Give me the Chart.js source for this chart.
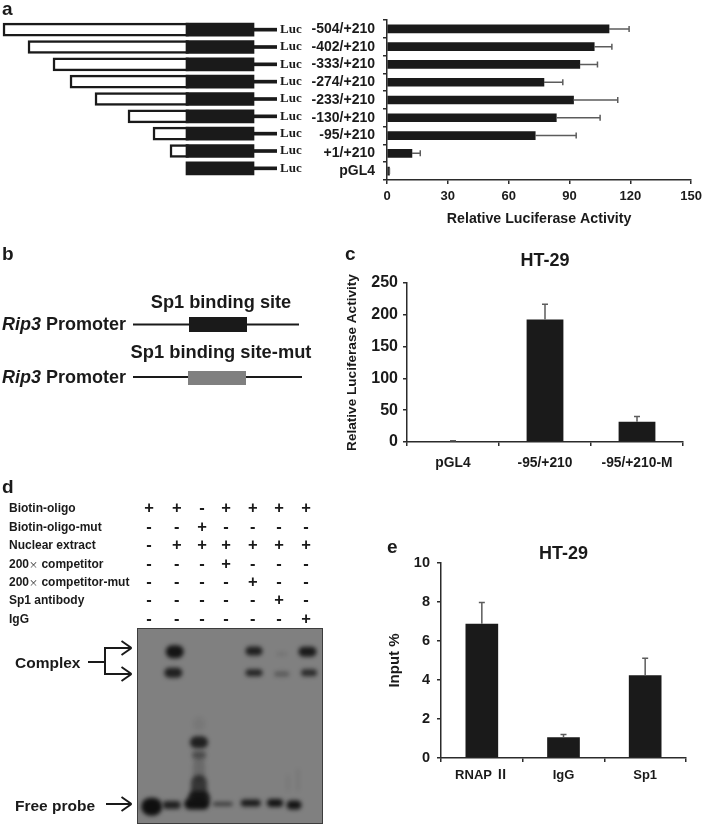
<!DOCTYPE html>
<html>
<head>
<meta charset="utf-8">
<title>Rip3 promoter figure</title>
<script src="https://cdn.jsdelivr.net/npm/chart.js@4/dist/chart.umd.min.js"></script>
<style>
    html, body { margin: 0; padding: 0; background: #fff; }
    #figure { position: relative; width: 703px; height: 825px; overflow: hidden; filter: blur(0.45px); }
    #figure canvas, #figure svg { position: absolute; }
    svg text { font-family: 'Liberation Sans', 'Noto Sans CJK SC', sans-serif; font-weight: bold; fill: #1a1a1a; dominant-baseline: central; }
</style>
</head>
<body>
<div id="figure">
    <svg id="notes" width="703" height="825" style="left:0;top:0"></svg>
    <canvas id="constructChart"></canvas>
    <canvas id="deletionChart"></canvas>
    <canvas id="mutantChart"></canvas>
    <canvas id="gelChart"></canvas>
    <canvas id="chipChart"></canvas>
</div>

<script>
// panel a - deletion constructs
const constructLabels = ['-504/+210', '-402/+210', '-333/+210', '-274/+210', '-233/+210', '-130/+210', '-95/+210', '+1/+210', 'pGL4'];
const constructLuc = ['Luc', 'Luc', 'Luc', 'Luc', 'Luc', 'Luc', 'Luc', 'Luc', 'Luc'];
const insertStarts = [-183, -158, -133, -116, -91, -58, -33, -16, null];
const blackEnds = [68, 68, 68, 68, 68, 68, 68, 68, 68];
const stemEnds = [91, 91, 91, 91, 91, 91, 91, 91, 91];
const deletionValues = [109.5, 102.2, 95.1, 77.4, 92, 83.5, 73.1, 12.3, 1.2];
const deletionErrorTops = [119.4, 110.9, 103.8, 86.7, 113.8, 105.1, 93.3, 16.4, 1.2];
const deletionTicks = [0, 30, 60, 90, 120, 150];

// panel c
const mutantLabels = ['pGL4', '-95/+210', '-95/+210-M'];
const mutantValues = [1, 192.5, 32];
const mutantErrorTops = [2, 216.5, 40];

// panel d
const reagentNames = ['Biotin-oligo', 'Biotin-oligo-mut', 'Nuclear extract', '200× competitor', '200× competitor-mut', 'Sp1 antibody', 'IgG'];
const reagentMarks = ['++-++++', '--+----', '-++++++', '---+---', '----+--', '-----+-', '------+'];
const bandX = [37.7, 36.3, 117, 117, 144.7, 144.7, 170.5, 172, 62, 62, 62, 62, 62, 62, 14.7, 34.7, 59.7, 85.7, 113.7, 138, 157, 151, 161];
const bandY = [23.7, 44.7, 23, 44.7, 26, 46, 23.7, 44.7, 96, 114.3, 127, 142, 160, 170, 178.7, 177, 176, 176, 175, 175, 177, 155, 152];
const bandW = [18, 18, 17, 17, 10, 15, 18, 16, 12, 18, 14, 12, 16, 22, 21, 18, 25, 20, 20, 16, 15, 1.5, 1.5];
const bandH = [13, 10, 9, 7, 3, 5, 10, 7, 14, 12, 8, 24, 26, 14, 18, 8, 11, 3.5, 7, 8, 9, 16, 22];
const bandDark = [0.95, 0.85, 0.85, 0.8, 0.15, 0.35, 0.9, 0.75, 0.07, 0.85, 0.45, 0.2, 0.65, 0.85, 1, 0.85, 0.98, 0.7, 0.9, 0.95, 0.95, 0.12, 0.15];

// panel e
const chipLabels = ['RNAP Ⅱ', 'IgG', 'Sp1'];
const chipValues = [6.89, 1.06, 4.24];
const chipErrorTops = [7.97, 1.21, 5.11];

const INK = '#1a1a1a';
const AXIS = '#2b2b2b';
const SANS = "'Liberation Sans', 'Noto Sans CJK SC', sans-serif";
const SERIF = "'Liberation Serif', serif";

function place(id, left, top, width, height) {
    const canvas = document.getElementById(id);
    canvas.width = width;
    canvas.height = height;
    canvas.style.left = left + 'px';
    canvas.style.top = top + 'px';
    return canvas.getContext('2d');
}

function boldFont(size, lineHeight) {
    return { family: SANS, size: size, weight: 'bold', lineHeight: lineHeight || 1.2 };
}

// grey error bars, upper side only
function errorBars(tops) {
    return {
        id: 'errorBars',
        afterDatasetsDraw(chart) {
            const ctx = chart.ctx;
            const horizontal = chart.options.indexAxis === 'y';
            const bars = chart.getDatasetMeta(0).data;
            const valueScale = horizontal ? chart.scales.x : chart.scales.y;
            ctx.save();
            ctx.strokeStyle = '#5c5c5c';
            ctx.lineWidth = 1.5;
            bars.forEach((bar, i) => {
                const end = valueScale.getPixelForValue(tops[i]);
                ctx.beginPath();
                if (horizontal) {
                    ctx.moveTo(bar.x, bar.y);
                    ctx.lineTo(end, bar.y);
                    ctx.moveTo(end, bar.y - 3);
                    ctx.lineTo(end, bar.y + 3);
                } else {
                    ctx.moveTo(bar.x, bar.y);
                    ctx.lineTo(bar.x, end);
                    ctx.moveTo(bar.x - 3, end);
                    ctx.lineTo(bar.x + 3, end);
                }
                ctx.stroke();
            });
            ctx.restore();
        }
    };
}

function initConstructChart() {
    const ctx = place('constructChart', 0, 0, 320, 190);
    const barBase = { barThickness: 13, grouped: false };
    // black box listed first so it sits over the right edge of the white insert
    new Chart(ctx, {
        type: 'bar',
        data: {
            labels: constructLuc,
            datasets: [
                Object.assign({}, barBase, {
                    data: blackEnds.map(e => [0, e]),
                    backgroundColor: INK
                }),
                Object.assign({}, barBase, {
                    barThickness: 3,
                    data: stemEnds.map((e, i) => [blackEnds[i], e]),
                    backgroundColor: INK
                }),
                Object.assign({}, barBase, {
                    data: insertStarts.map(s => s === null ? null : [s, 2.5]),
                    backgroundColor: '#fff', borderColor: INK, borderWidth: 2.5, borderSkipped: false
                })
            ]
        },
        options: {
            indexAxis: 'y',
            responsive: false,
            animation: false,
            layout: { padding: { top: 21, bottom: 13 } },
            plugins: { legend: { display: false }, tooltip: { enabled: false } },
            scales: {
                x: { display: false, min: -186, max: 91 },
                y: {
                    position: 'right',
                    grid: { display: false, drawTicks: false },
                    border: { display: false },
                    afterFit(scale) { scale.width = 43; },
                    ticks: { color: INK, padding: 3, autoSkip: false, font: { family: SERIF, size: 13, weight: 'bold' } }
                }
            }
        }
    });
}

function initDeletionChart() {
    const ctx = place('deletionChart', 302, 0, 405, 228);
    new Chart(ctx, {
        type: 'bar',
        data: {
            labels: constructLabels,
            datasets: [{ data: deletionValues, backgroundColor: INK, barThickness: 8 }]
        },
        options: {
            indexAxis: 'y',
            responsive: false,
            animation: false,
            layout: { padding: { top: 20, right: 15 } },
            plugins: { legend: { display: false }, tooltip: { enabled: false } },
            scales: {
                x: {
                    min: 0,
                    max: 150,
                    afterFit(scale) { scale.height = 48; },
                    afterBuildTicks(scale) { scale.ticks = deletionTicks.map(v => ({ value: v })); },
                    grid: { drawOnChartArea: false, color: AXIS, lineWidth: 1.5, tickLength: 4 },
                    border: { color: AXIS, width: 1.5 },
                    ticks: { color: INK, padding: 5, font: boldFont(13), maxRotation: 0 },
                    title: { display: true, text: 'Relative Luciferase Activity', color: INK, padding: 0, font: boldFont(14.2) }
                },
                y: {
                    afterFit(scale) { scale.width = 85; },
                    grid: { drawOnChartArea: false, offset: true, color: AXIS, lineWidth: 1.5, tickLength: 4 },
                    border: { color: AXIS, width: 1.5 },
                    ticks: { color: INK, padding: 8, font: boldFont(14), autoSkip: false }
                }
            }
        },
        plugins: [errorBars(deletionErrorTops)]
    });
}

function columnOptions(opts) {
    return {
        responsive: false,
        animation: false,
        layout: { padding: { right: opts.right } },
        plugins: {
            legend: { display: false },
            tooltip: { enabled: false },
            title: {
                display: true,
                text: 'HT-29',
                color: INK,
                fullSize: false,
                font: boldFont(18, 1),
                padding: { top: 0, bottom: opts.titleGap }
            }
        },
        scales: {
            x: {
                afterFit(scale) { scale.height = opts.xHeight; },
                grid: { drawOnChartArea: false, offset: true, color: AXIS, lineWidth: 1.5, tickLength: 4 },
                border: { color: AXIS, width: 1.5 },
                ticks: { color: INK, padding: opts.xPad, font: boldFont(opts.xFont), maxRotation: 0 }
            },
            y: {
                min: 0,
                max: opts.max,
                afterFit(scale) { scale.width = opts.yWidth; },
                grid: { drawOnChartArea: false, color: AXIS, lineWidth: 1.5, tickLength: 4 },
                border: { color: AXIS, width: 1.5 },
                ticks: { color: INK, stepSize: opts.step, padding: opts.yPad, font: boldFont(opts.yFont) },
                title: { display: true, text: opts.yTitle, color: INK, padding: 0, font: boldFont(opts.yTitleFont) }
            }
        }
    };
}

function initMutantChart() {
    const ctx = place('mutantChart', 344, 252, 359, 230);
    new Chart(ctx, {
        type: 'bar',
        data: {
            labels: mutantLabels,
            datasets: [{ data: mutantValues, backgroundColor: INK, barPercentage: 0.8, categoryPercentage: 0.5 }]
        },
        options: columnOptions({
            right: 20, titleGap: 13, xHeight: 40, xPad: 8.5, xFont: 13.8, max: 250, step: 50,
            yWidth: 63, yPad: 5, yFont: 16, yTitle: 'Relative Luciferase Activity', yTitleFont: 13.6
        }),
        plugins: [errorBars(mutantErrorTops)]
    });
}

function initChipChart() {
    const ctx = place('chipChart', 386, 545, 317, 240);
    new Chart(ctx, {
        type: 'bar',
        data: {
            labels: chipLabels,
            datasets: [{ data: chipValues, backgroundColor: INK, barPercentage: 0.8, categoryPercentage: 0.5 }]
        },
        options: columnOptions({
            right: 17, titleGap: 0, xHeight: 27, xPad: 5.5, xFont: 13, max: 10, step: 2,
            yWidth: 55, yPad: 7, yFont: 14.5, yTitle: 'Input %', yTitleFont: 15
        }),
        plugins: [errorBars(chipErrorTops)]
    });
}

// gel blot, bands placed through the chart's own linear scales
const gelBands = {
    id: 'gelBands',
    beforeDatasetsDraw(chart) {
        const { ctx, chartArea: area, scales: { x, y } } = chart;
        ctx.save();
        ctx.beginPath();
        ctx.rect(area.left, area.top, area.width, area.height);
        ctx.clip();
        ctx.fillStyle = '#808080';
        ctx.fillRect(area.left, area.top, area.width, area.height);
        ctx.filter = 'blur(2px)';
        bandX.forEach((bx, i) => {
            const w = x.getPixelForValue(bandW[i]) - x.getPixelForValue(0);
            const h = y.getPixelForValue(bandH[i]) - y.getPixelForValue(0);
            ctx.fillStyle = 'rgba(15, 15, 15, ' + bandDark[i] + ')';
            ctx.beginPath();
            ctx.roundRect(x.getPixelForValue(bx) - w / 2, y.getPixelForValue(bandY[i]) - h / 2, w, h, Math.min(w, h) * 0.5);
            ctx.fill();
        });
        ctx.filter = 'none';
        ctx.strokeStyle = '#3d3d3d';
        ctx.lineWidth = 2;
        ctx.strokeRect(area.left, area.top, area.width, area.height);
        ctx.restore();
    }
};

function initGelChart() {
    const ctx = place('gelChart', 137, 628, 186, 196);
    new Chart(ctx, {
        type: 'scatter',
        data: { datasets: [{ data: bandX.map((v, i) => ({ x: v, y: bandY[i] })), pointRadius: 0 }] },
        options: {
            responsive: false,
            animation: false,
            plugins: { legend: { display: false }, tooltip: { enabled: false } },
            scales: {
                x: { display: false, min: 0, max: 186 },
                y: { display: false, min: 0, max: 196, reverse: true }
            }
        },
        plugins: [gelBands]
    });
}

// static labels and schematics (panels b and d, panel letters)
function drawNotes() {
    const svg = document.getElementById('notes');
    const NS = 'http://www.w3.org/2000/svg';

    function text(str, x, y, size, anchor, style) {
        const el = document.createElementNS(NS, 'text');
        el.setAttribute('x', x);
        el.setAttribute('y', y);
        el.setAttribute('font-size', size);
        if (anchor) el.setAttribute('text-anchor', anchor);
        if (style) el.setAttribute('font-style', style);
        el.textContent = str;
        svg.appendChild(el);
        return el;
    }
    function line(x1, y1, x2, y2, width) {
        const el = document.createElementNS(NS, 'line');
        el.setAttribute('x1', x1);
        el.setAttribute('y1', y1);
        el.setAttribute('x2', x2);
        el.setAttribute('y2', y2);
        el.setAttribute('stroke', INK);
        el.setAttribute('stroke-width', width);
        svg.appendChild(el);
    }
    function box(x, y, w, h, fill) {
        const el = document.createElementNS(NS, 'rect');
        el.setAttribute('x', x);
        el.setAttribute('y', y);
        el.setAttribute('width', w);
        el.setAttribute('height', h);
        el.setAttribute('fill', fill);
        svg.appendChild(el);
    }
    function arrowHead(x, y) {
        line(x - 10, y - 7, x, y, 2);
        line(x - 10, y + 7, x, y, 2);
    }

    // panel letters
    text('a', 2, 8, 19);
    text('b', 2, 253, 19);
    text('c', 345, 253, 19);
    text('d', 2, 486, 19);
    text('e', 387, 546, 19);

    // panel b
    text('Sp1 binding site', 221, 302, 18.2, 'middle');
    text('Sp1 binding site-mut', 221, 351, 18.3, 'middle');
    [324, 377].forEach(y => {
        const label = text('Rip3', 2, y, 18, null, 'italic');
        const tail = document.createElementNS(NS, 'tspan');
        tail.setAttribute('font-style', 'normal');
        tail.textContent = ' Promoter';
        label.appendChild(tail);
    });
    line(133, 324.5, 299, 324.5, 2);
    box(189, 317, 58, 15, INK);
    line(133, 377, 302, 377, 2);
    box(188, 371, 58, 14, '#808080');

    // panel d, reagent table
    const laneX = [149, 176.7, 202, 226, 252.7, 279, 306];
    const rowY = [507.5, 526.5, 545, 563.5, 582, 600, 619];
    reagentNames.forEach((name, r) => {
        const label = text('', 9, rowY[r], 12);
        name.split('×').forEach((part, p) => {
            if (p > 0) {
                const times = document.createElementNS(NS, 'tspan');
                times.setAttribute('font-family', "'Noto Sans CJK SC'");
                times.setAttribute('font-weight', 'normal');
                times.setAttribute('font-size', 9);
                times.textContent = '×';
                label.appendChild(times);
            }
            const run = document.createElementNS(NS, 'tspan');
            run.textContent = part;
            label.appendChild(run);
        });
        reagentMarks[r].split('').forEach((m, l) => {
            text(m, laneX[l], rowY[r] - 1, 16.5, 'middle');
        });
    });

    // panel d, arrows
    text('Complex', 15, 662.5, 15.5);
    line(88, 662, 105, 662, 2);
    line(105, 647.5, 105, 674.5, 2);
    line(104, 648, 131, 648, 2);
    line(104, 674, 131, 674, 2);
    arrowHead(131.5, 648);
    arrowHead(131.5, 674);
    text('Free probe', 15, 805, 15.5);
    line(106, 804, 131, 804, 2);
    arrowHead(131.5, 804);
}

document.addEventListener('DOMContentLoaded', function() {
    drawNotes();
    initConstructChart();
    initDeletionChart();
    initMutantChart();
    initGelChart();
    initChipChart();
});
</script>
</body>
</html>
